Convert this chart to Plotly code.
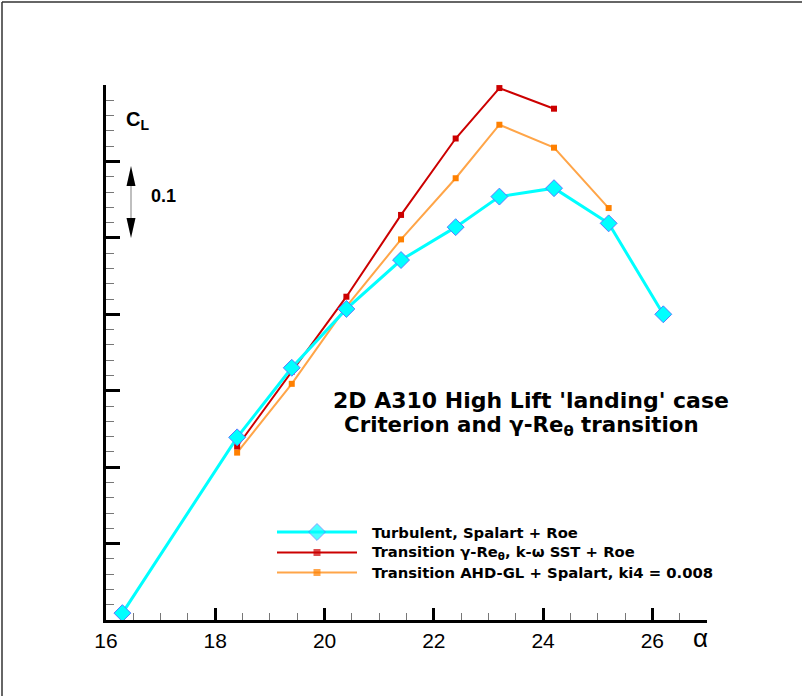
import plotly.graph_objects as go

# ---- data (alpha in degrees, CL) ----
alpha_turb = [16.3, 18.4, 19.4, 20.4, 21.4, 22.4, 23.2, 24.2, 25.2, 26.2]
cl_turb = [3.509, 3.739, 3.830, 3.907, 3.971, 4.014, 4.054, 4.065, 4.019, 3.900]

alpha_gre = [18.4, 19.4, 20.4, 21.4, 22.4, 23.2, 24.2]
cl_gre = [3.727, 3.825, 3.923, 4.030, 4.130, 4.196, 4.169]

alpha_ahd = [18.4, 19.4, 20.4, 21.4, 22.4, 23.2, 24.2, 25.2]
cl_ahd = [3.719, 3.809, 3.910, 3.998, 4.078, 4.148, 4.118, 4.039]

names = ["Turbulent, Spalart + Roe",
         "Transition γ-Re<sub>θ</sub>, k-ω SST + Roe",
         "Transition AHD-GL + Spalart, ki4 = 0.008"]

x_ticks = [16, 18, 20, 22, 24, 26]

W, H = 802, 696
ML, MR, MT, MB = 106, 95, 85, 76
PW, PH = W - ML - MR, H - MT - MB


def px(x):
    return (x - ML) / PW


def py(y):
    return (H - MB - y) / PH


FONT = "Liberation Sans, Arial, Helvetica, sans-serif"
BFONT = "DejaVu Sans, Liberation Sans, Arial, sans-serif"

cyan_line = "#00ffff"
cyan_edge = "#5a78ff"
red = "#cc0000"
orange_line = "#ffa548"
orange_mark = "#ff8000"

fig = go.Figure()

fig.add_trace(go.Scatter(x=alpha_ahd, y=cl_ahd, mode="lines+markers",
                         line=dict(color=orange_line, width=2),
                         marker=dict(symbol="square", size=6, color=orange_mark,
                                     line=dict(width=0)),
                         showlegend=False, cliponaxis=False))
fig.add_trace(go.Scatter(x=alpha_gre, y=cl_gre, mode="lines+markers",
                         line=dict(color=red, width=2),
                         marker=dict(symbol="square", size=6, color=red,
                                     line=dict(width=0)),
                         showlegend=False, cliponaxis=False))
fig.add_trace(go.Scatter(x=alpha_turb, y=cl_turb, mode="lines+markers",
                         line=dict(color=cyan_line, width=3),
                         marker=dict(symbol="diamond", size=13, color=cyan_line,
                                     line=dict(color=cyan_edge, width=1)),
                         showlegend=False, cliponaxis=False))

# ---- custom legend (overlay axes 0..1 = plot area) ----
leg_rows = [py(532), py(552.5), py(572.5)]
lx0, lxm, lx1 = px(277), px(317), px(357)
leg_styles = [
    (cyan_line, 3, "diamond", 13, cyan_line, cyan_edge, 1),
    (red, 2, "square", 7, red, red, 0),
    (orange_line, 2, "square", 7, orange_mark, orange_mark, 0),
]
for yrow, (lc, lw, sym, ms, mc, me, mew) in zip(leg_rows, leg_styles):
    fig.add_trace(go.Scatter(x=[lx0, lxm, lx1], y=[yrow] * 3, xaxis="x2", yaxis="y2",
                             mode="lines+markers",
                             line=dict(color=lc, width=lw),
                             marker=dict(symbol=sym, size=[0, ms, 0], color=mc,
                                         line=dict(color=me, width=mew)),
                             showlegend=False, cliponaxis=False, hoverinfo="skip"))

annotations = []
for yrow, name in zip(leg_rows, names):
    annotations.append(dict(x=px(370), y=yrow, xref="paper", yref="paper",
                            text="<b>" + name + "</b>", showarrow=False,
                            xanchor="left", yanchor="middle",
                            font=dict(family=BFONT, size=14.8, color="black")))

annotations += [
    dict(x=px(331), y=py(400), xref="paper", yref="paper",
         text="<b>2D A310 High Lift 'landing' case</b>", showarrow=False,
         xanchor="left", yanchor="middle",
         font=dict(family=BFONT, size=22, color="black")),
    dict(x=px(342), y=py(426), xref="paper", yref="paper",
         text="<b>Criterion and γ-Re<sub>θ</sub> transition</b>", showarrow=False,
         xanchor="left", yanchor="middle",
         font=dict(family=BFONT, size=21.3, color="black")),
    dict(x=px(124), y=py(120), xref="paper", yref="paper",
         text="<b>C<sub>L</sub></b>", showarrow=False,
         xanchor="left", yanchor="middle",
         font=dict(family=FONT, size=20, color="black")),
    dict(x=px(149), y=py(196), xref="paper", yref="paper",
         text="<b>0.1</b>", showarrow=False,
         xanchor="left", yanchor="middle",
         font=dict(family=FONT, size=18, color="black")),
    dict(x=px(700), y=py(638), xref="paper", yref="paper",
         text="α", showarrow=False,
         xanchor="center", yanchor="middle",
         font=dict(family=FONT, size=26, color="black")),
]

shapes = [
    # outer frame (left and top)
    dict(type="line", xref="paper", yref="paper", x0=px(2), x1=px(2),
         y0=py(2), y1=py(H + 2), line=dict(color="#333333", width=1.5)),
    dict(type="line", xref="paper", yref="paper", x0=px(2), x1=px(W + 2),
         y0=py(2), y1=py(2), line=dict(color="#333333", width=1.5)),
    # scale arrow
    dict(type="line", xref="paper", yref="paper", x0=px(131), x1=px(131),
         y0=py(184), y1=py(220), line=dict(color="#aaaaaa", width=1.5)),
    dict(type="path", xref="paper", yref="paper",
         path=f"M {px(131)} {py(166)} L {px(126.5)} {py(186)} L {px(135.5)} {py(186)} Z",
         fillcolor="black", line=dict(width=0)),
    dict(type="path", xref="paper", yref="paper",
         path=f"M {px(131)} {py(238)} L {px(126.5)} {py(218)} L {px(135.5)} {py(218)} Z",
         fillcolor="black", line=dict(width=0)),
]

fig.update_layout(
    width=W, height=H,
    margin=dict(l=ML, r=MR, t=MT, b=MB, pad=0),
    paper_bgcolor="white", plot_bgcolor="white",
    showlegend=False,
    font=dict(family=FONT, color="black"),
    annotations=annotations,
    shapes=shapes,
    xaxis=dict(range=[16, 27], tickmode="array", tickvals=x_ticks,
               ticktext=[str(v) for v in x_ticks],
               ticks="inside", ticklen=12, tickwidth=3, tickcolor="black",
               showline=True, linewidth=3, linecolor="black",
               showgrid=False, zeroline=False,
               tickfont=dict(family=FONT, size=21, color="black"),
               minor=dict(dtick=0.5, tick0=16, ticks="inside", ticklen=7,
                          tickwidth=1, tickcolor="#777777", showgrid=False)),
    yaxis=dict(range=[3.5, 4.2000001], tick0=3.5, dtick=0.1,
               ticks="inside", ticklen=14, tickwidth=3, tickcolor="black",
               showline=True, linewidth=3, linecolor="black",
               showgrid=False, zeroline=False, showticklabels=False,
               minor=dict(dtick=0.02, tick0=3.5, ticks="inside", ticklen=8,
                          tickwidth=1, tickcolor="#777777", showgrid=False)),
    xaxis2=dict(range=[0, 1], overlaying="x", visible=False, fixedrange=True),
    yaxis2=dict(range=[0, 1], overlaying="y", visible=False, fixedrange=True),
)

fig.write_html("out.html")
